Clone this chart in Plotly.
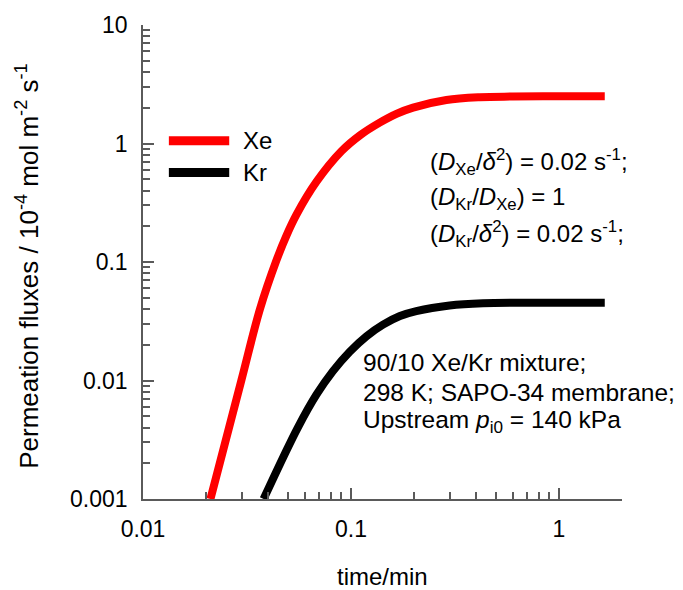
import plotly.graph_objects as go

# Xe flux (10^-4 mol m^-2 s^-1) vs time (min)
xe_t = [0.0211, 0.0297, 0.0365, 0.0438, 0.049, 0.0546, 0.0682, 0.0899, 0.111, 0.1374,
        0.1653, 0.1988, 0.2875, 0.416, 0.6, 1.0, 1.66]
xe_f = [0.001, 0.01, 0.040, 0.103, 0.168, 0.250, 0.475, 0.86, 1.18, 1.50,
        1.78, 2.01, 2.33, 2.46, 2.49, 2.5, 2.5]

# Kr flux
kr_t = [0.0380, 0.0471, 0.0556, 0.0682, 0.0819, 0.0986, 0.1186, 0.1426, 0.172,
        0.206, 0.298, 0.431, 0.7, 1.0, 1.66]
kr_f = [0.001, 0.00223, 0.00403, 0.00759, 0.0120, 0.0175, 0.0236, 0.0296, 0.0350,
        0.0385, 0.0430, 0.0449, 0.0453, 0.0454, 0.0454]

y_ticks = [0.001, 0.01, 0.1, 1, 10]
y_ticktext = ["0.001", "0.01", "0.1", "1", "10"]
x_ticks = [0.01, 0.1, 1]
x_ticktext = ["0.01", "0.1", "1"]

FONT = "Liberation Sans"
AX = "#5a5a5a"

fig = go.Figure()
fig.add_trace(go.Scatter(x=xe_t, y=xe_f, mode="lines", name="Xe",
                         line=dict(color="#ff0000", width=8, shape="spline", smoothing=1.0),
                         showlegend=False))
fig.add_trace(go.Scatter(x=kr_t, y=kr_f, mode="lines", name="Kr",
                         line=dict(color="#000000", width=8, shape="spline", smoothing=1.0),
                         showlegend=False))

minor_x = [m * d for d in (0.01, 0.1, 1) for m in range(2, 10) if m * d <= 2.0]
minor_y = [m * d for d in (0.001, 0.01, 0.1, 1) for m in range(2, 10)]

common = dict(ticks="inside", ticklen=11, tickwidth=1.5, tickcolor=AX, showline=True,
              linecolor=AX, linewidth=1.5, showgrid=False, zeroline=False, mirror=False,
              tickfont=dict(family=FONT, size=23, color="#000"), ticklabelstandoff=9)

fig.update_xaxes(type="log", range=[-2, 0.303], tickmode="array", tickvals=x_ticks,
                 ticktext=x_ticktext,
                 minor=dict(tickmode="array", tickvals=minor_x, ticks="inside",
                            ticklen=7, tickwidth=1.5, tickcolor=AX, showgrid=False),
                 **common)
fig.update_yaxes(type="log", range=[-3, 1], tickmode="array", tickvals=y_ticks,
                 ticktext=y_ticktext,
                 minor=dict(tickmode="array", tickvals=minor_y, ticks="inside",
                            ticklen=7, tickwidth=1.5, tickcolor=AX, showgrid=False),
                 **common)

annots = []
# axis titles
annots.append(dict(text="Permeation fluxes / 10<sup>-4</sup> mol m<sup>-2</sup> s<sup>-1</sup>",
                   xref="paper", yref="paper", x=-0.24, y=0.49, textangle=-90,
                   showarrow=False, xanchor="center", yanchor="middle",
                   font=dict(family=FONT, size=26, color="#000")))
annots.append(dict(text="time/min", xref="paper", yref="paper", x=0.501, y=-0.163,
                   showarrow=False, xanchor="center", yanchor="middle",
                   font=dict(family=FONT, size=24, color="#000")))
# legend
for label, yy in (("Xe", 0.756), ("Kr", 0.689)):
    annots.append(dict(text=label, xref="paper", yref="paper", x=0.205, y=yy,
                       showarrow=False, xanchor="left", yanchor="middle",
                       font=dict(family=FONT, size=24, color="#000")))
# parameter block
block1 = ["(<i>D</i><sub>Xe</sub>/<i>δ</i><sup>2</sup>) = 0.02 s<sup>-1</sup>;",
          "(<i>D</i><sub>Kr</sub>/<i>D</i><sub>Xe</sub>) = 1",
          "(<i>D</i><sub>Kr</sub>/<i>δ</i><sup>2</sup>) = 0.02 s<sup>-1</sup>;"]
for txt, yy in zip(block1, (0.712, 0.634, 0.559)):
    annots.append(dict(text=txt, xref="paper", yref="paper", x=0.595, y=yy,
                       showarrow=False, xanchor="left", yanchor="middle",
                       font=dict(family=FONT, size=24, color="#000")))
block2 = ["90/10 Xe/Kr mixture;",
          "298 K; SAPO-34 membrane;",
          "Upstream <i>p</i><sub>i0</sub> = 140 kPa"]
for txt, yy in zip(block2, (0.288, 0.225, 0.163)):
    annots.append(dict(text=txt, xref="paper", yref="paper", x=0.455, y=yy,
                       showarrow=False, xanchor="left", yanchor="middle",
                       font=dict(family=FONT, size=24.5, color="#000")))

shapes = []
for col, yy in (("#ff0000", 0.756), ("#000000", 0.689)):
    shapes.append(dict(type="line", xref="paper", yref="paper", x0=0.054, x1=0.18,
                       y0=yy, y1=yy, line=dict(color=col, width=9)))

fig.update_layout(width=683, height=590, margin=dict(l=143, r=61, t=23, b=91),
                  paper_bgcolor="white", plot_bgcolor="white",
                  annotations=annots, shapes=shapes, showlegend=False,
                  font=dict(family=FONT, color="#000"))

fig.write_html("out.html")
